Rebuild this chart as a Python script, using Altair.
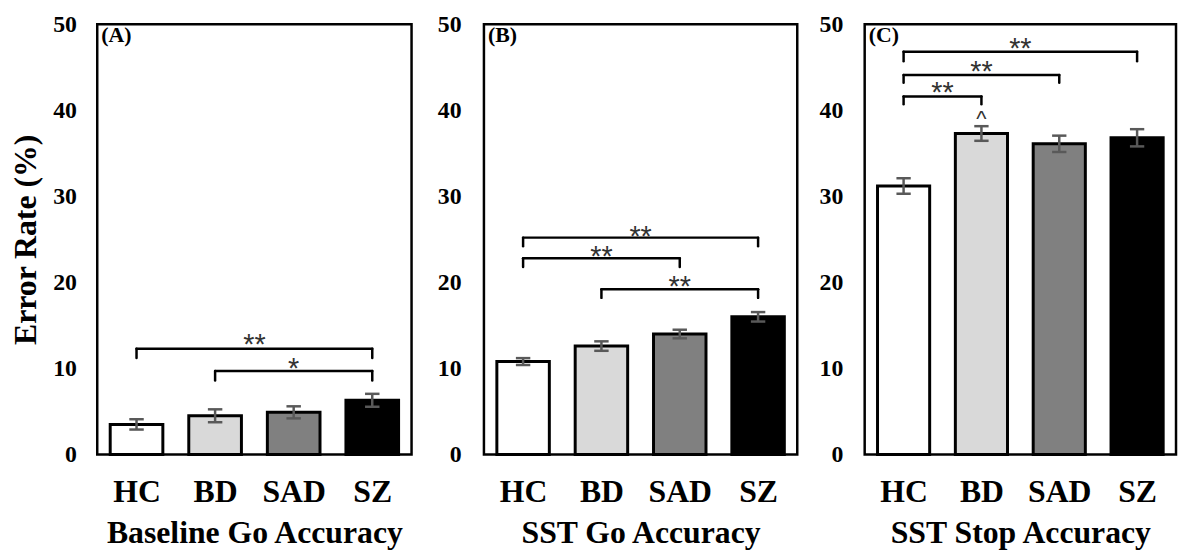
import json
import altair as alt
import pandas as pd

groups = ["HC", "BD", "SAD", "SZ"]
fills = ["#ffffff", "#d9d9d9", "#808080", "#000000"]

panel_ids = ["A", "B", "C"]
panel_tags = ["(A)", "(B)", "(C)"]
panel_titles = ["Baseline Go Accuracy", "SST Go Accuracy", "SST Stop Accuracy"]
panel_widths = [317, 316, 314]

means_a = [3.5, 4.5, 4.9, 6.3]
err_a = [0.6, 0.75, 0.7, 0.75]
means_b = [10.8, 12.6, 14.0, 16.0]
err_b = [0.4, 0.55, 0.5, 0.55]
means_c = [31.2, 37.3, 36.1, 36.8]
err_c = [0.9, 0.85, 0.95, 1.0]

br_panel = ["A", "A", "B", "B", "B", "C", "C", "C"]
br_from = ["HC", "BD", "HC", "HC", "BD", "HC", "HC", "HC"]
br_to = ["SZ", "SZ", "SZ", "SAD", "SZ", "SZ", "SAD", "BD"]
br_y = [12.3, 9.7, 25.2, 22.8, 19.2, 46.8, 44.1, 41.6]
br_leg = [11.2, 8.6, 24.2, 21.8, 18.2, 45.7, 43.2, 40.7]
br_label = ["**", "*", "**", "**", "**", "**", "**", "**"]
br_label_y = [13.5, 10.7, 26.1, 23.8, 20.3, 47.9, 45.3, 42.8]

caret_panel = ["C"]
caret_group = ["BD"]
caret_y = [39.4]
caret_text = ["^"]

y_ticks = [0, 10, 20, 30, 40, 50]

# ---- tables built from the arrays above
rows = []
for pid, ms, es in zip(panel_ids, [means_a, means_b, means_c], [err_a, err_b, err_c]):
    for g, m, e in zip(groups, ms, es):
        rows.append({"panel": pid, "group": g, "idx": groups.index(g), "mean": m, "err": e})
bars_df = pd.DataFrame(rows)

br_df = pd.DataFrame({
    "panel": br_panel,
    "x1": [groups.index(g) for g in br_from],
    "x2": [groups.index(g) for g in br_to],
    "y": br_y, "leg": br_leg, "label": br_label, "label_y": br_label_y,
})

caret_df = pd.DataFrame({
    "panel": caret_panel,
    "idx": [groups.index(g) for g in caret_group],
    "y": caret_y, "text": caret_text,
})

label_expr = json.dumps(groups) + "[datum.value]"
SERIF = "Liberation Serif"
HALF = 0.335
CAP = 0.092
ERR_COLOR = "#595959"


def panel(i):
    pid = panel_ids[i]
    xs = alt.Scale(domain=[-0.5, 3.5], nice=False, zero=False)
    ys = alt.Scale(domain=[0, 50], nice=False)
    xaxis = alt.Axis(values=[0, 1, 2, 3], labelExpr=label_expr, labelAngle=0,
                     labelFont=SERIF, labelFontWeight="bold", labelFontSize=32,
                     labelColor="black", labelPadding=22, ticks=False, domain=False,
                     grid=False, title=panel_titles[i], titleFont=SERIF,
                     titleFontWeight="bold", titleFontSize=32, titleColor="black",
                     titlePadding=11)
    yaxis_kw = dict(values=y_ticks, labelFont=SERIF, labelFontWeight="bold",
                    labelFontSize=24, labelColor="black", ticks=False, domain=False,
                    grid=False)
    if i == 0:
        yaxis = alt.Axis(labelPadding=21, title="Error Rate (%)", titleFont=SERIF,
                         titleFontWeight="bold", titleFontSize=32, titleColor="black",
                         titlePadding=10, **yaxis_kw)
    elif i == 1:
        yaxis = alt.Axis(labelPadding=23, title=None, minExtent=51, maxExtent=51, **yaxis_kw)
    else:
        yaxis = alt.Axis(labelPadding=22, title=None, minExtent=46, maxExtent=46, **yaxis_kw)

    bdata = bars_df[bars_df.panel == pid]
    base = alt.Chart(bdata).transform_calculate(
        xl=f"datum.idx - {HALF}", xr=f"datum.idx + {HALF}",
        lo="datum.mean - datum.err", hi="datum.mean + datum.err",
        cl=f"datum.idx - {CAP}", cr=f"datum.idx + {CAP}",
    )
    bars = base.mark_bar(stroke="black", strokeWidth=3).encode(
        x=alt.X("xl:Q", scale=xs, axis=xaxis),
        x2="xr:Q",
        y=alt.Y("mean:Q", scale=ys, axis=yaxis),
        y2=alt.datum(0),
        color=alt.Color("group:N", scale=alt.Scale(domain=groups, range=fills), legend=None),
    )
    err = base.mark_rule(color=ERR_COLOR, strokeWidth=2.5).encode(
        x="idx:Q", y="lo:Q", y2="hi:Q")
    cap_lo = base.mark_rule(color=ERR_COLOR, strokeWidth=2.5).encode(
        x="cl:Q", x2="cr:Q", y="lo:Q")
    cap_hi = base.mark_rule(color=ERR_COLOR, strokeWidth=2.5).encode(
        x="cl:Q", x2="cr:Q", y="hi:Q")

    bd = alt.Chart(br_df[br_df.panel == pid]).transform_calculate(
        xm="(datum.x1 + datum.x2) / 2")
    hbar = bd.mark_rule(color="black", strokeWidth=2.5, strokeCap="round").encode(
        x="x1:Q", x2="x2:Q", y="y:Q")
    lleg = bd.mark_rule(color="black", strokeWidth=2.5, strokeCap="round").encode(
        x="x1:Q", y="leg:Q", y2="y:Q")
    rleg = bd.mark_rule(color="black", strokeWidth=2.5, strokeCap="round").encode(
        x="x2:Q", y="leg:Q", y2="y:Q")
    stars = bd.mark_text(font="Liberation Sans", fontSize=29, color="#333333",
                         baseline="middle", dy=7).encode(
        x="xm:Q", y="label_y:Q", text="label:N")

    layers = [bars, err, cap_lo, cap_hi, hbar, lleg, rleg, stars]

    cdata = caret_df[caret_df.panel == pid]
    if len(cdata):
        layers.append(alt.Chart(cdata).mark_text(font="Liberation Sans", fontSize=22,
                                                 color="#333333", baseline="middle",
                                                 dy=4).encode(
            x="idx:Q", y="y:Q", text="text:N"))

    tag = alt.Chart(pd.DataFrame({"tag": [panel_tags[i]]})).mark_text(
        font=SERIF, fontWeight="bold", fontSize=22, color="black",
        align="left", baseline="top").encode(
        x=alt.value(4), y=alt.value(1), text="tag:N")
    layers.append(tag)

    return alt.layer(*layers).properties(width=panel_widths[i], height=434)


chart = alt.hconcat(panel(0), panel(1), panel(2), spacing=18).properties(
    padding={"left": 0, "top": 0, "right": 0, "bottom": 0},
    background="white",
).configure_view(stroke="black", strokeWidth=2.5)

chart.save("out.html", embed_options={"renderer": "svg", "actions": False})
